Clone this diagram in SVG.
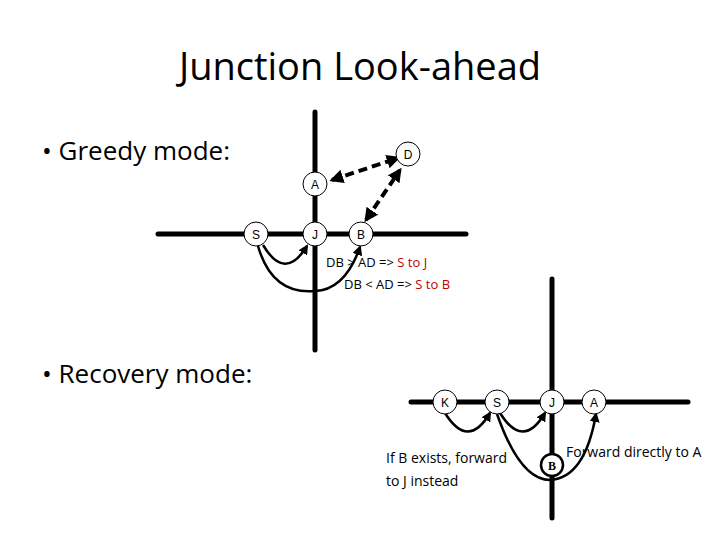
<svg xmlns="http://www.w3.org/2000/svg" width="720" height="540" viewBox="0 0 720 540">
<defs>
<style>
.road{stroke:#000;stroke-width:5;stroke-linecap:round}
.nd{fill:#fff;stroke:#000;stroke-width:1}
.nl{font-family:"Liberation Sans",Arial,sans-serif;font-size:12px;text-anchor:middle}
.arc{fill:none;stroke:#000;stroke-width:2.5}
.dash{fill:none;stroke:#000;stroke-width:4;stroke-dasharray:9,5}
.t{font-family:"Open Sans","Liberation Sans",sans-serif}
.red{fill:#c00000}
</style>
<marker id="ah" viewBox="0 0 10 10" refX="8" refY="5" markerWidth="4" markerHeight="4" orient="auto-start-reverse"><path d="M0,0L10,5L0,10z"/></marker>
<marker id="ahd" viewBox="0 0 10 10" refX="8" refY="5" markerWidth="3.5" markerHeight="3.5" orient="auto-start-reverse"><path d="M0,0L10,5L0,10z"/></marker>
</defs>
<rect width="720" height="540" fill="#fff"/>
<text class="t" x="360" y="80" font-size="38" text-anchor="middle">Junction Look-ahead</text>
<text class="t" x="42" y="160" font-size="26">• Greedy mode:</text>
<text class="t" x="42" y="383" font-size="26">• Recovery mode:</text>
<g id="roads">
<line class="road" x1="315" y1="112" x2="315" y2="350"/>
<line class="road" x1="158" y1="234" x2="466" y2="234"/>
<line class="road" x1="552" y1="279" x2="552" y2="518"/>
<line class="road" x1="411" y1="402" x2="688" y2="402"/>
</g>
<g id="connectors">
<path class="arc" d="M263,245 Q285,282 307,246" marker-end="url(#ah)"/>
<path class="arc" d="M258,246 Q272,295 315,291 Q345,290 360,247" marker-end="url(#ah)"/>
<path class="dash" d="M332,180 L398,158" marker-start="url(#ahd)" marker-end="url(#ahd)"/>
<path class="dash" d="M366,220 L400,170" marker-start="url(#ahd)" marker-end="url(#ahd)"/>
<path class="arc" d="M445,413 Q468,450 490,413" marker-end="url(#ah)"/>
<path class="arc" d="M500,413 Q523,450 545,413" marker-end="url(#ah)"/>
<path class="arc" d="M497,414 Q520,480 550,480 Q585,478 596,414" marker-end="url(#ah)"/>
</g>
<g id="node-S1"><circle class="nd" cx="256" cy="234" r="12"/><text class="nl" x="256" y="239">S</text></g>
<g id="node-J1"><circle class="nd" cx="315" cy="234" r="12"/><text class="nl" x="315" y="239">J</text></g>
<g id="node-B1"><circle class="nd" cx="361" cy="234" r="12"/><text class="nl" x="361" y="239">B</text></g>
<g id="node-A1"><circle class="nd" cx="315" cy="184" r="12"/><text class="nl" x="315" y="189">A</text></g>
<g id="node-D1"><circle class="nd" cx="408" cy="154" r="12"/><text class="nl" x="408" y="159">D</text></g>
<g id="node-K2"><circle class="nd" cx="445" cy="402" r="12"/><text class="nl" x="445" y="407">K</text></g>
<g id="node-S2"><circle class="nd" cx="497" cy="402" r="12"/><text class="nl" x="497" y="407">S</text></g>
<g id="node-J2"><circle class="nd" cx="552" cy="402" r="12"/><text class="nl" x="552" y="407">J</text></g>
<g id="node-A2"><circle class="nd" cx="594" cy="402" r="12"/><text class="nl" x="594" y="407">A</text></g>
<g id="node-B2"><circle cx="552" cy="465" r="11" fill="#fff" stroke="#000" stroke-width="2.5"/><text x="552" y="470" font-family="Liberation Serif,serif" font-weight="bold" font-size="12" text-anchor="middle">B</text></g>
<g id="labels" class="t" font-size="13">
<text x="326" y="267">DB &gt; AD =&gt; <tspan class="red">S to J</tspan></text>
<text x="344" y="289">DB &lt; AD =&gt; <tspan class="red">S to B</tspan></text>
<text x="386" y="463" font-size="14">If B exists, forward</text>
<text x="386" y="486" font-size="14">to J instead</text>
<text x="566" y="457" font-size="14">Forward directly to A</text>
</g>
</svg>
